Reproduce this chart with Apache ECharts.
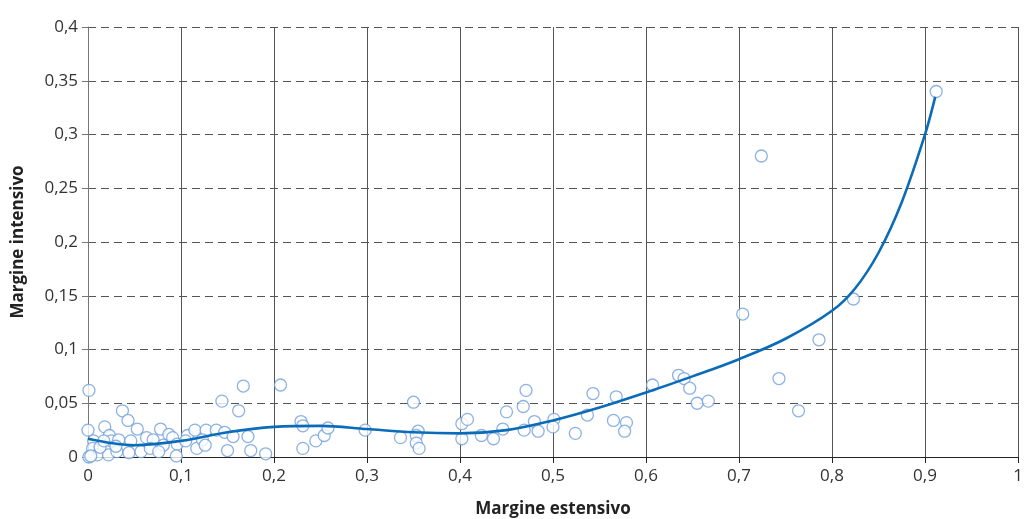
<!DOCTYPE html>
<html>
<head>
<meta charset="utf-8">
<script src="https://cdn.jsdelivr.net/npm/echarts@6/dist/echarts.min.js"></script>
<style>
html,body{margin:0;padding:0;background:#fff;}
#chart{width:1025px;height:519px;}
</style>
</head>
<body>
<div id="chart"></div>
<script>
// Scatter points: [margine estensivo, margine intensivo]
const pointsX = [0.001,0.000,0.037,0.043,0.018,0.053,0.023,0.006,0.025,0.033,0.046,0.063,0.070,0.078,0.087,0.091,0.096,0.095,0.107,0.115,
0.005,0.010,0.022,0.031,0.044,0.057,0.067,0.081,0.105,0.117,0.001,0.013,0.030,0.017,0.003,0.076,
0.127,0.138,0.147,0.156,0.172,0.123,0.126,0.150,0.175,0.191,0.144,0.162,0.167,0.207,
0.229,0.231,0.231,0.245,0.254,0.258,0.298,0.336,0.350,0.355,0.353,0.353,0.356,
0.402,0.408,0.402,0.423,0.436,0.446,0.450,0.471,0.468,0.469,0.480,0.484,0.501,0.500,
0.524,0.537,0.543,0.568,0.565,0.579,0.577,0.607,0.635,0.641,0.647,0.655,0.667,
0.704,0.743,0.764,0.786,0.823,0.724,0.912];
const pointsY = [0.062,0.025,0.043,0.034,0.028,0.026,0.020,0.015,0.015,0.016,0.015,0.018,0.016,0.026,0.021,0.018,0.012,0.001,0.020,0.025,
0.008,0.002,0.002,0.005,0.004,0.005,0.008,0.011,0.015,0.008,0.000,0.009,0.010,0.015,0.001,0.005,
0.025,0.025,0.023,0.019,0.019,0.016,0.011,0.006,0.006,0.003,0.052,0.043,0.066,0.067,
0.033,0.029,0.008,0.015,0.020,0.027,0.025,0.018,0.051,0.024,0.020,0.013,0.008,
0.031,0.035,0.017,0.020,0.017,0.026,0.042,0.062,0.047,0.025,0.033,0.024,0.035,0.028,
0.022,0.039,0.059,0.056,0.034,0.032,0.024,0.067,0.076,0.073,0.064,0.050,0.052,
0.133,0.073,0.043,0.109,0.147,0.280,0.340];

// Trend curve
const curveX = [0,0.05,0.1,0.15,0.2,0.25,0.3,0.35,0.4,0.45,0.5,0.55,0.6,0.65,0.7,0.75,0.8,0.825,0.85,0.875,0.9,0.911];
const curveY = [0.017,0.011,0.015,0.023,0.028,0.029,0.026,0.023,0.022,0.025,0.034,0.046,0.060,0.075,0.091,0.110,0.136,0.157,0.19,0.237,0.3,0.335];

const xTicks = {min:0, max:1, interval:0.1};
const yTicks = {min:0, max:0.4, interval:0.05};
const xName = 'Margine estensivo';
const yName = 'Margine intensivo';

const fmt = v => String(+(+v).toFixed(2)).replace('.', ',');
const font = '"Open Sans", "Noto Sans", sans-serif';

const chart = echarts.init(document.getElementById('chart'), null, {renderer:'canvas'});
chart.setOption({
  animation:false,
  backgroundColor:'#ffffff',
  grid:{left:88, right:7, top:27, bottom:62, containLabel:false, outerBoundsMode:'none'},
  xAxis:{
    type:'value', min:xTicks.min, max:xTicks.max, interval:xTicks.interval,
    name:xName, nameLocation:'middle', nameGap:44,
    nameTextStyle:{fontFamily:font, fontWeight:'bold', fontSize:17, color:'#222'},
    axisLine:{show:true, onZero:false, lineStyle:{color:'#222', width:1}},
    axisTick:{show:true, inside:false, length:6, lineStyle:{color:'#222'}},
    axisLabel:{formatter:fmt, fontFamily:font, fontSize:17, color:'#333', margin:11},
    splitLine:{show:true, lineStyle:{color:'#555', width:1, type:'solid'}}
  },
  yAxis:{
    type:'value', min:yTicks.min, max:yTicks.max, interval:yTicks.interval,
    name:yName, nameLocation:'middle', nameGap:61, nameRotate:90,
    nameTextStyle:{fontFamily:font, fontWeight:'bold', fontSize:17, color:'#222'},
    axisLine:{show:true, lineStyle:{color:'#777', width:1}},
    axisTick:{show:true, inside:false, length:6, lineStyle:{color:'#777'}},
    axisLabel:{formatter:fmt, fontFamily:font, fontSize:17, color:'#333', margin:10},
    splitLine:{show:true, lineStyle:{color:'#555', width:1, type:[8,5]}}
  },
  series:[
    {
      type:'scatter', z:2,
      data: pointsX.map((x,i)=>[x, pointsY[i]]),
      symbol:'circle', symbolSize:12,
      itemStyle:{color:'#ffffff', borderColor:'#6f9fdc', borderWidth:1.3}
    },
    {
      type:'line', z:3, smooth:0.35, symbol:'none',
      data: curveX.map((x,i)=>[x, curveY[i]]),
      lineStyle:{color:'#0a6cb8', width:2.6}
    }
  ]
});
</script>
</body>
</html>
